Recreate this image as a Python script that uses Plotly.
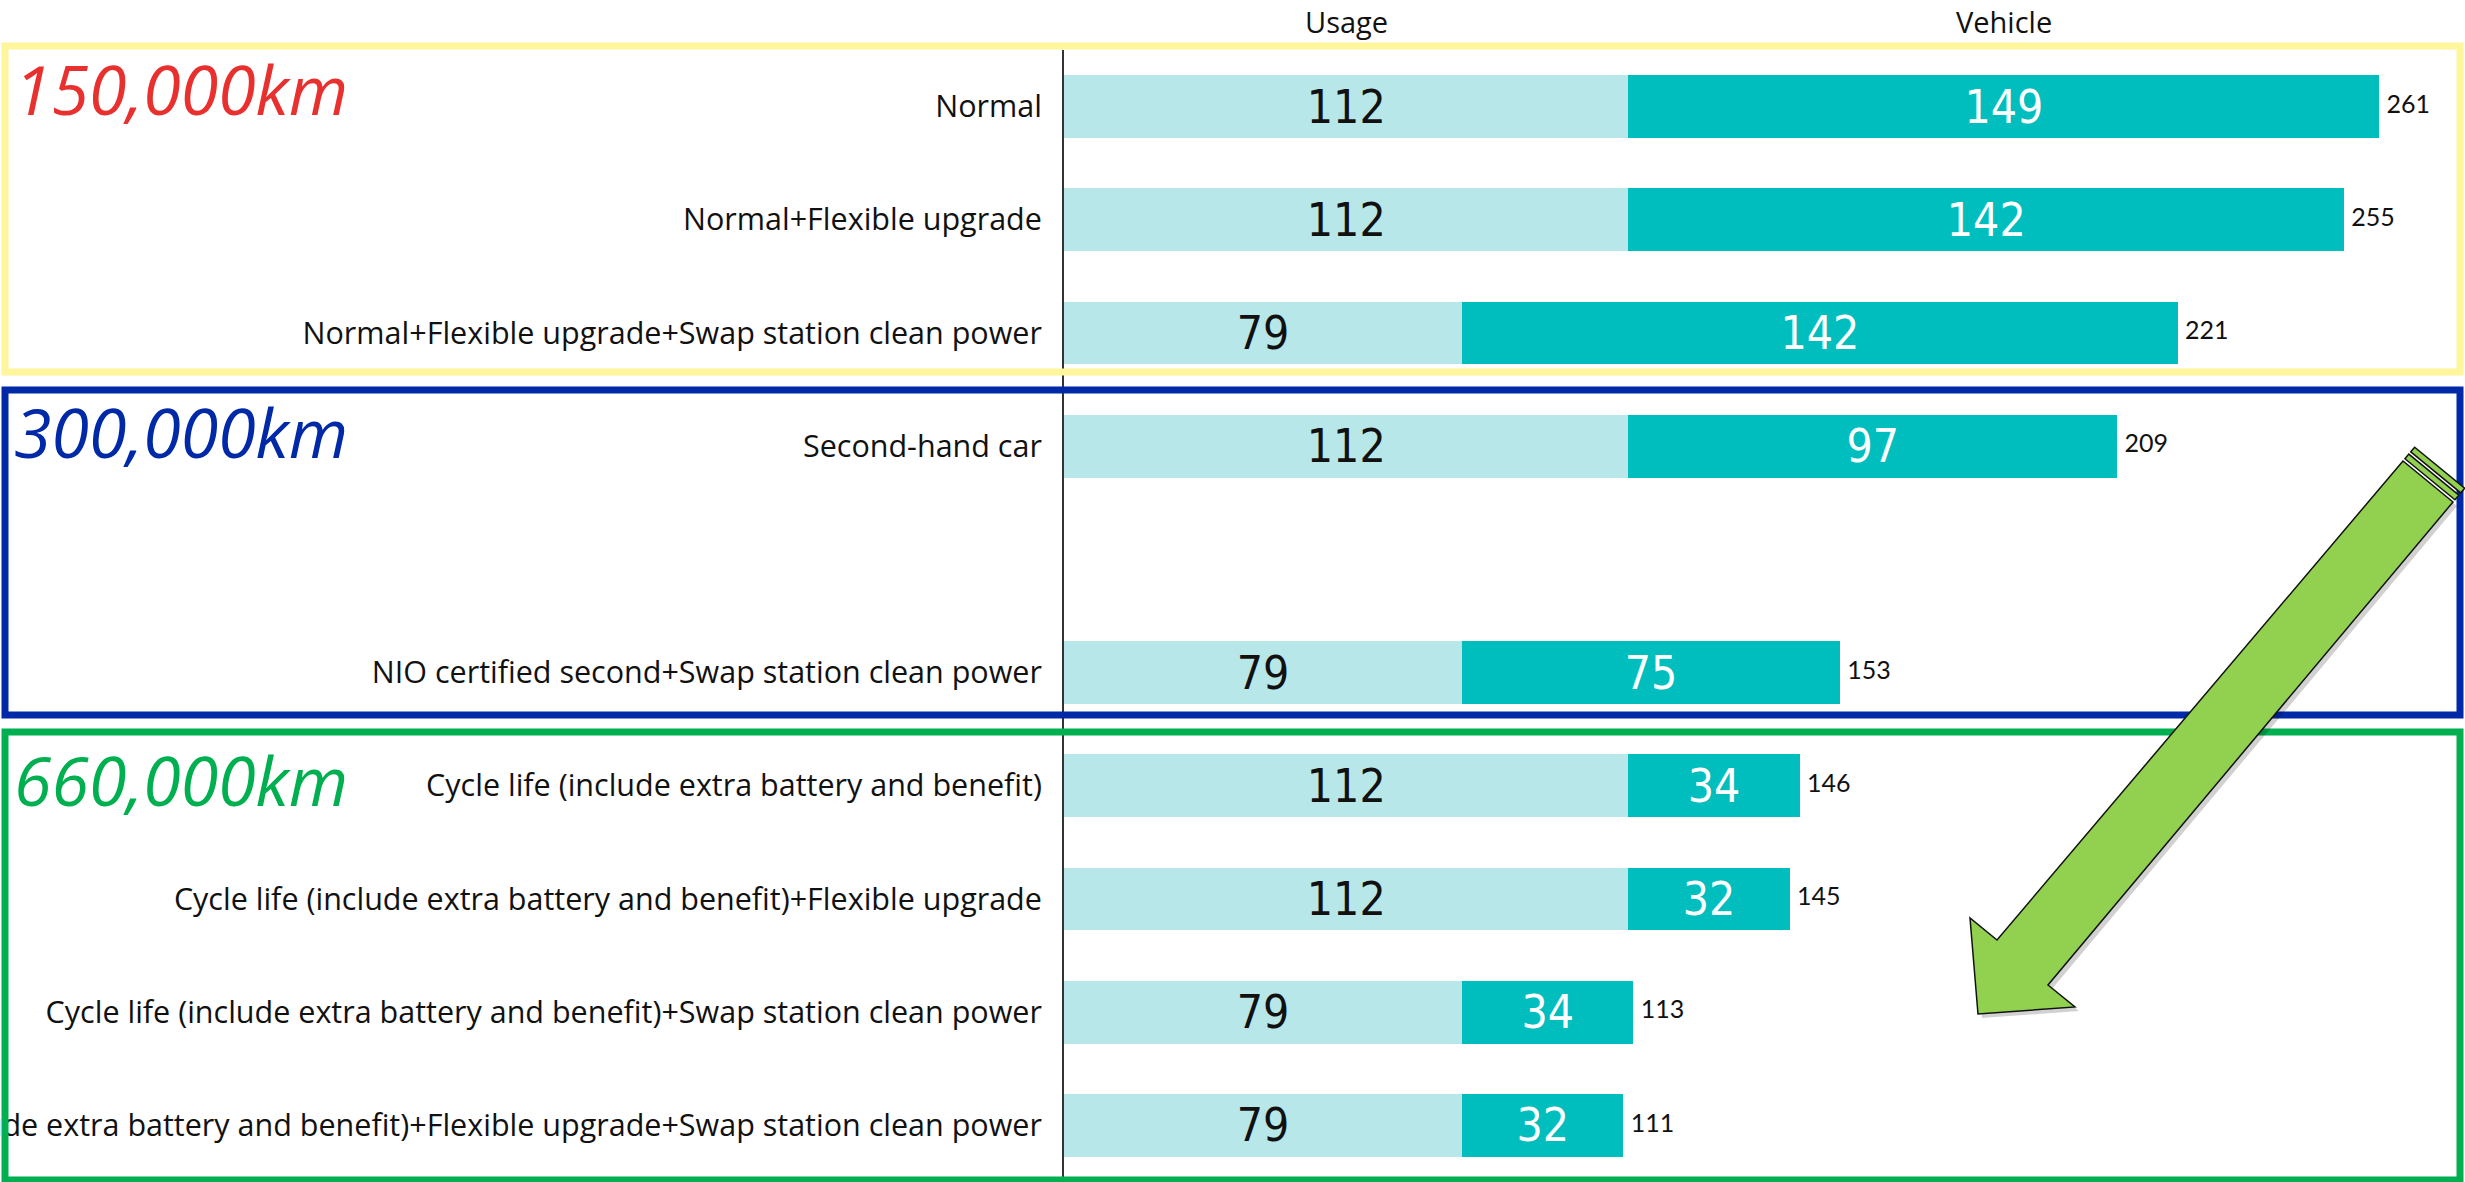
import plotly.graph_objects as go

# ---------------- data ----------------
categories = [
    "Normal",
    "Normal+Flexible upgrade",
    "Normal+Flexible upgrade+Swap station clean power",
    "Second-hand car",
    " ",
    "NIO certified second+Swap station clean power",
    "Cycle life (include extra battery and benefit)",
    "Cycle life (include extra battery and benefit)+Flexible upgrade",
    "Cycle life (include extra battery and benefit)+Swap station clean power",
    "Cycle life (include extra battery and benefit)+Flexible upgrade+Swap station clean power",
]
usage = [112, 112, 79, 112, None, 79, 112, 112, 79, 79]
vehicle = [149, 142, 142, 97, None, 75, 34, 32, 34, 32]
totals = [261, 255, 221, 209, None, 153, 146, 145, 113, 111]
series_names = ["Usage", "Vehicle"]
group_titles = ["150,000km", "300,000km", "660,000km"]

# ---------------- layout geometry ----------------
W, H = 2465, 1182
ML, MR, MT, MB = 1064, 0, 50, 0
PW, PH = W - ML - MR, H - MT - MB


def px(x):
    return (x - ML) / PW


def py(y):
    return (H - MB - y) / PH


LIGHT = "#B8E7EA"
DARK = "#00BEBE"
FONT = "Open Sans, Lato, sans-serif"
NUMFONT = "Liberation Sans Narrow, DejaVu Sans Condensed, Arial Narrow, sans-serif"

fig = go.Figure()
fig.add_trace(go.Bar(
    y=categories, x=usage, orientation="h", name=series_names[0],
    marker=dict(color=LIGHT, line=dict(width=0)),
    text=[("" if v is None else str(v)) for v in usage],
    textposition="inside", insidetextanchor="middle",
    textfont=dict(family=NUMFONT, size=46, color="#111111"),
    constraintext="none",
))
fig.add_trace(go.Bar(
    y=categories, x=vehicle, orientation="h", name=series_names[1],
    marker=dict(color=DARK, line=dict(width=0)),
    text=[("" if v is None else str(v)) for v in vehicle],
    textposition="inside", insidetextanchor="middle",
    textfont=dict(family=NUMFONT, size=46, color="#FFFFFF"),
    constraintext="none",
))
ends = [None if u is None else u + v for u, v in zip(usage, vehicle)]
fig.add_trace(go.Scatter(
    y=categories, x=ends, mode="markers+text",
    marker=dict(size=10, opacity=0),
    text=[("" if t is None else str(t)) for t in totals],
    textposition="middle right",
    textfont=dict(family="Lato, Open Sans, sans-serif", size=25, color="#111111"),
    showlegend=False, hoverinfo="skip",
))

fig.update_layout(
    width=W, height=H,
    margin=dict(l=ML, r=MR, t=MT, b=MB, autoexpand=False),
    barmode="stack", bargap=0.444,
    plot_bgcolor="white", paper_bgcolor="white",
    showlegend=False,
    font=dict(family=FONT, color="#111111"),
    xaxis=dict(range=[0, 278], showticklabels=False, showgrid=False,
               zeroline=False, showline=False, fixedrange=True),
    yaxis=dict(autorange=False, range=[9.5, -0.5], type="category",
               showgrid=False, zeroline=False,
               showline=True, linecolor="#333333", linewidth=2,
               ticks="", ticklabelstandoff=14, automargin=False,
               tickfont=dict(family=FONT, size=30.5, color="#111111")),
)

# column headers
fig.add_annotation(x=usage[0] / 2, y=py(21), xref="x", yref="paper",
                   yanchor="middle", text=series_names[0], showarrow=False,
                   font=dict(family=FONT, size=29, color="#111111"))
fig.add_annotation(x=usage[0] + vehicle[0] / 2, y=py(21), xref="x", yref="paper",
                   yanchor="middle", text=series_names[1], showarrow=False,
                   font=dict(family=FONT, size=29, color="#111111"))

# group boxes
boxes = [
    (46, 372, "#FFF59B"),
    (390, 715, "#0029A8"),
    (732, 1180, "#00B050"),
]
for (y0, y1, col) in boxes:
    fig.add_shape(type="rect", xref="paper", yref="paper",
                  x0=px(5), x1=px(2460), y0=py(y0), y1=py(y1),
                  line=dict(color=col, width=7), fillcolor="rgba(0,0,0,0)")

# group titles
title_specs = [(88, "#E8312F"), (432, "#0029A8"), (780, "#00B050")]
for t, (yc, col) in zip(group_titles, title_specs):
    fig.add_annotation(x=px(12), y=py(yc), xref="paper", yref="paper",
                       xanchor="left", yanchor="middle",
                       text="<i>" + t + "</i>", showarrow=False,
                       font=dict(family=FONT, size=68, color=col))

# green arrow
arrow = [(2403, 461), (1997, 940), (1970, 918), (1978, 1014),
         (2075, 1007), (2048, 985), (2453, 502)]


def path_of(pts, dx=0, dy=0):
    s = "M " + " L ".join(f"{px(x + dx):.5f},{py(y + dy):.5f}" for x, y in pts)
    return s + " Z"


fig.add_shape(type="path", xref="paper", yref="paper", path=path_of(arrow, 4, 4),
              fillcolor="rgba(0,0,0,0.18)", line=dict(width=0))
fig.add_shape(type="path", xref="paper", yref="paper", path=path_of(arrow),
              fillcolor="#92D050", line=dict(color="#111111", width=1.5))
ux, uy = 0.647, -0.763
A, B = arrow[0], arrow[-1]
for (a, b) in [(3, 9), (12, 18)]:
    pts = [(A[0] + ux * a, A[1] + uy * a), (A[0] + ux * b, A[1] + uy * b),
           (B[0] + ux * b, B[1] + uy * b), (B[0] + ux * a, B[1] + uy * a)]
    fig.add_shape(type="path", xref="paper", yref="paper", path=path_of(pts),
                  fillcolor="#92D050", line=dict(color="#111111", width=1.5))

fig.write_html("out.html",
               config={"displayModeBar": False},
               post_script="document.body.style.margin='0px';"
                           "document.body.style.overflow='hidden';")
